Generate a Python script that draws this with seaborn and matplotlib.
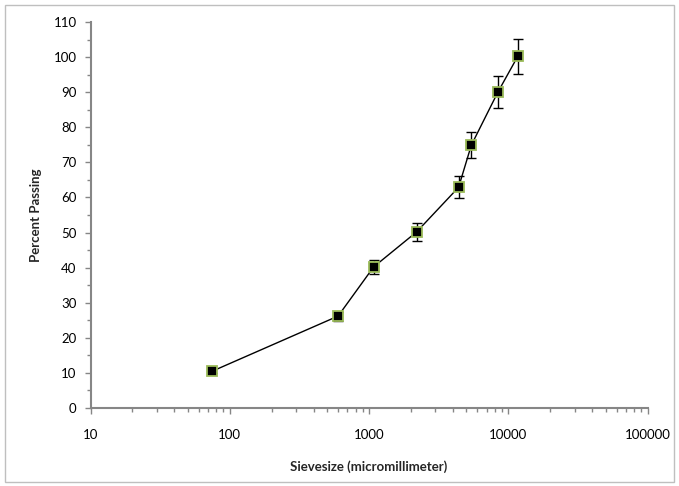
import matplotlib
matplotlib.use("Agg")
import matplotlib.pyplot as plt
import matplotlib.patches as mpatches
from matplotlib.ticker import LogLocator, FixedLocator, NullFormatter, FuncFormatter
import numpy as np
import pandas as pd
import seaborn as sns

# Sieve analysis: particle size vs. cumulative percent passing
sieve_size = [75, 600, 1080, 2200, 4400, 5430, 8420, 11700]
percent_passing = [10.5, 26.2, 40.2, 50.2, 62.9, 74.9, 90.0, 100.2]
error = [0.5, 1.3, 2.0, 2.5, 3.1, 3.7, 4.5, 5.0]

x_label = "Sievesize (micromillimeter)"
y_label = "Percent Passing"
y_ticks = list(range(0, 111, 10))
x_ticks = [10, 100, 1000, 10000, 100000]

sns.set_style("ticks")
plt.rcParams["font.family"] = ["Lato", "DejaVu Sans"]

df = pd.DataFrame({"size": sieve_size, "passing": percent_passing, "err": error})

fig = plt.figure(figsize=(6.79, 4.86), dpi=100)
ax = fig.add_axes([90.5 / 679, 1 - 408 / 486, (647.5 - 90.5) / 679, (408 - 22) / 486])

# outer chart border
fig.patches.append(mpatches.Rectangle((5 / 679, 4 / 486), 669 / 679, 477 / 486,
                                      transform=fig.transFigure, fill=False,
                                      edgecolor="#bfbfbf", linewidth=1.0))

ax.errorbar(df["size"], df["passing"], yerr=df["err"], fmt="none",
            ecolor="black", elinewidth=1.0, capsize=3.5, capthick=1.0, zorder=2)
sns.lineplot(data=df, x="size", y="passing", ax=ax, color="black", linewidth=1.0,
             marker="s", markersize=6.5, markerfacecolor="black",
             markeredgecolor="#9bbb59", markeredgewidth=1.3, zorder=3,
             sort=False, estimator=None)

ax.set_xscale("log")
ax.set_xlim(10, 100000)
ax.set_ylim(0, 110)

ax.xaxis.set_major_locator(FixedLocator(x_ticks))
ax.xaxis.set_major_formatter(FuncFormatter(lambda v, p: f"{int(round(v))}"))
ax.xaxis.set_minor_locator(LogLocator(base=10, subs=np.arange(2, 10)))
ax.xaxis.set_minor_formatter(NullFormatter())
ax.yaxis.set_major_locator(FixedLocator(y_ticks))
ax.yaxis.set_minor_locator(FixedLocator([v + 5 for v in y_ticks[:-1]]))

spine_color = "#868686"
for side in ["top", "right"]:
    ax.spines[side].set_visible(False)
for side in ["left", "bottom"]:
    ax.spines[side].set_color(spine_color)
    ax.spines[side].set_linewidth(1.5)

ax.tick_params(axis="both", which="major", direction="out", length=4, width=1,
               color=spine_color, labelsize=9.5, labelcolor="black", pad=6)
ax.tick_params(axis="both", which="minor", direction="out", length=3, width=1,
               color=spine_color)
ax.tick_params(axis="x", which="major", pad=11)

ax.set_xlabel(x_label, fontsize=9.5, fontweight="bold", labelpad=14)
ax.set_ylabel(y_label, fontsize=9.5, fontweight="bold", labelpad=8)
ax.grid(False)

fig.savefig("out.png", dpi=100)
